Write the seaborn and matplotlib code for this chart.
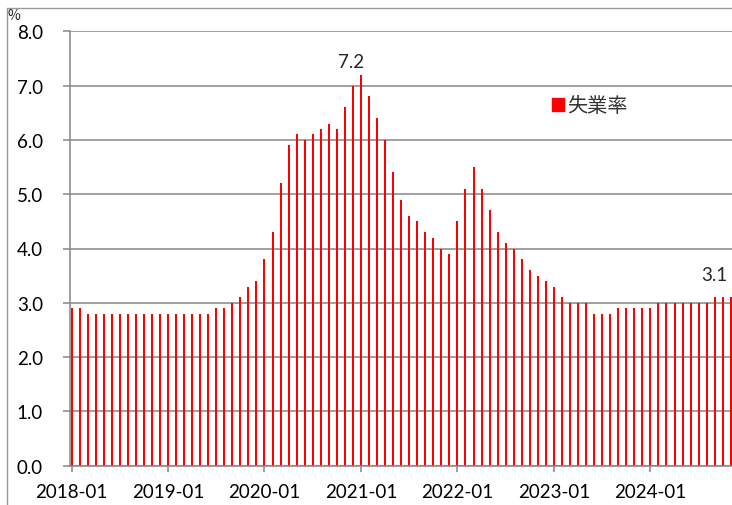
import pandas as pd
import matplotlib
matplotlib.use("Agg")
import matplotlib.pyplot as plt
from matplotlib.lines import Line2D
from matplotlib.patches import Patch
import seaborn as sns

# Monthly unemployment rate (%), 2018-01 .. 2024-11
rate2018 = [2.9, 2.9, 2.8, 2.8, 2.8, 2.8, 2.8, 2.8, 2.8, 2.8, 2.8, 2.8]
rate2019 = [2.8, 2.8, 2.8, 2.8, 2.8, 2.8, 2.9, 2.9, 3.0, 3.1, 3.3, 3.4]
rate2020 = [3.8, 4.3, 5.2, 5.9, 6.1, 6.0, 6.1, 6.2, 6.3, 6.2, 6.6, 7.0]
rate2021 = [7.2, 6.8, 6.4, 6.0, 5.4, 4.9, 4.6, 4.5, 4.3, 4.2, 4.0, 3.9]
rate2022 = [4.5, 5.1, 5.5, 5.1, 4.7, 4.3, 4.1, 4.0, 3.8, 3.6, 3.5, 3.4]
rate2023 = [3.3, 3.1, 3.0, 3.0, 3.0, 2.8, 2.8, 2.8, 2.9, 2.9, 2.9, 2.9]
rate2024 = [2.9, 3.0, 3.0, 3.0, 3.0, 3.0, 3.0, 3.0, 3.1, 3.1, 3.1]

rate = rate2018 + rate2019 + rate2020 + rate2021 + rate2022 + rate2023 + rate2024
months = pd.date_range("2018-01-01", periods=len(rate), freq="MS").strftime("%Y-%m")
yearLabels = ["2018-01", "2019-01", "2020-01", "2021-01", "2022-01", "2023-01", "2024-01"]
seriesName = "失業率"

df = pd.DataFrame({"month": months, "rate": rate})

sns.set_theme(style="white")
plt.rcParams["font.family"] = ["Lato", "Noto Sans CJK JP", "DejaVu Sans"]

W, H = 732, 506
fig = plt.figure(figsize=(W / 100, H / 100), dpi=100)

# plot area in pixels (the chart runs past the right edge, as in the source)
left, top, bottom = 69.5, 32.3, 466.7
xmin, xmax = -0.25, 86.0
pxPerMonth = 8.04
ax = fig.add_axes([left / W, (H - bottom) / H,
                   (xmax - xmin) * pxPerMonth / W, (bottom - top) / H])

sns.barplot(data=df, x="month", y="rate", color="#ff0000", saturation=1,
            width=0.25, linewidth=0, ax=ax)

gridColor = "#868686"
ax.set_xlim(xmin, xmax)
ax.set_ylim(0, 8)
ax.set_yticks(range(0, 9))
ax.set_yticklabels([f"{v:.1f}" for v in range(0, 9)])
ax.set_xticks([months.get_loc(m) for m in yearLabels])
ax.set_xticklabels(yearLabels)
ax.set_xlabel("")
ax.set_ylabel("")
ax.yaxis.grid(True, color=gridColor, linewidth=1.1)
ax.set_axisbelow(True)
for side in ["top", "right"]:
    ax.spines[side].set_visible(False)
for side in ["left", "bottom"]:
    ax.spines[side].set_color(gridColor)
    ax.spines[side].set_linewidth(1.1)
ax.tick_params(axis="y", length=5, width=1.1, color=gridColor, pad=14,
               labelsize=13.5, labelcolor="black", left=True)
ax.tick_params(axis="x", length=4.5, width=1.1, color=gridColor, pad=8,
               labelsize=13.5, labelcolor="black", bottom=True)

# value labels
peak = rate.index(max(rate))
ax.annotate(f"{rate[peak]:.1f}", (peak, rate[peak]), xytext=(-10, 5),
            textcoords="offset pixels", ha="center", va="bottom", fontsize=13.5)
ax.annotate(f"{rate[-1]:.1f}", (len(rate) - 1, rate[-1]), xytext=(-3, 14),
            textcoords="offset pixels", ha="right", va="bottom", fontsize=13.5)

# legend
ax.legend(handles=[Patch(color="#ff0000", label=seriesName)],
          loc="center left", bbox_to_anchor=(552 / W, 1 - 107 / H),
          bbox_transform=fig.transFigure, frameon=False,
          handlelength=0.6, handleheight=0.6, handletextpad=0.15,
          borderpad=0, borderaxespad=0, labelcolor="#333333",
          prop={"family": ["Noto Sans CJK JP"], "size": 14.5})

# unit label and chart border
fig.text(8 / W, 1 - 16 / H, "%", fontsize=10, va="center", ha="left",
         family=["Noto Sans CJK JP"])
fig.add_artist(Line2D([7.3 / W, 7.3 / W], [0, 1 - 9 / H], color="#999999",
                      linewidth=1, transform=fig.transFigure))
fig.add_artist(Line2D([7.3 / W, 1], [1 - 9 / H, 1 - 9 / H], color="#999999",
                      linewidth=1, transform=fig.transFigure))

fig.savefig("out.png", dpi=100)
